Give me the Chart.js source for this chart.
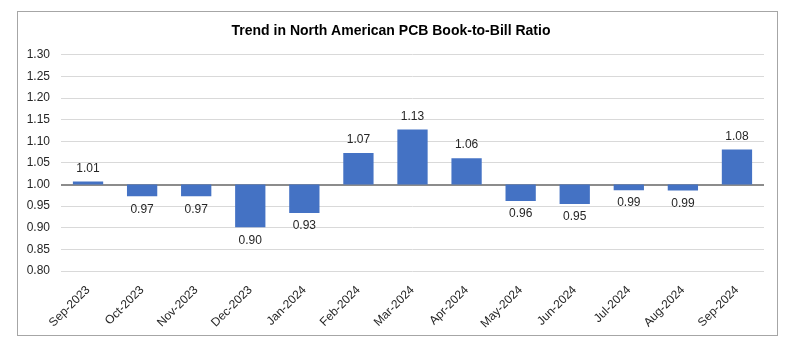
<!DOCTYPE html>
<html>
<head>
<meta charset="utf-8">
<script src="https://cdn.jsdelivr.net/npm/chart.js@4"></script>
<style>
  html, body { margin: 0; padding: 0; background: #fff; }
  #box {
    position: absolute; left: 17px; top: 11px;
    width: 759px; height: 323px;
    border: 1px solid #a6a6a6;
  }
</style>
</head>
<body>
<div id="box"><canvas id="chart" width="759" height="323"></canvas></div>
<script>
const months = ["Sep-2023", "Oct-2023", "Nov-2023", "Dec-2023", "Jan-2024", "Feb-2024",
  "Mar-2024", "Apr-2024", "May-2024", "Jun-2024", "Jul-2024", "Aug-2024", "Sep-2024"];
const ratio = [1.007, 0.973, 0.973, 0.901, 0.934, 1.073, 1.127, 1.061, 0.962, 0.955, 0.987, 0.986, 1.081];
const baseline = 1.0;
const yTicks = [0.80, 0.85, 0.90, 0.95, 1.00, 1.05, 1.10, 1.15, 1.20, 1.25, 1.30];

// value labels above / below each bar end
const valueLabels = {
  id: "valueLabels",
  afterDatasetsDraw(chart) {
    const { ctx } = chart;
    const meta = chart.getDatasetMeta(0);
    ctx.save();
    ctx.font = "12px 'Liberation Sans', Arial, sans-serif";
    ctx.fillStyle = "#262626";
    ctx.textAlign = "center";
    ctx.textBaseline = "middle";
    meta.data.forEach((bar, i) => {
      const v = ratio[i];
      const y = chart.scales.y.getPixelForValue(v);
      const off = v >= baseline ? -13 : 13;
      ctx.fillText(v.toFixed(2), bar.x, y + off);
    });
    ctx.restore();
  }
};

new Chart(document.getElementById("chart"), {
  type: "bar",
  data: {
    labels: months,
    datasets: [{
      data: ratio.map(v => [baseline, v]),
      backgroundColor: "#4472c4",
      borderWidth: 0,
      categoryPercentage: 1,
      barPercentage: 0.56
    }]
  },
  options: {
    responsive: false,
    animation: false,
    layout: { padding: { left: 0, right: 13, top: 1, bottom: 0 } },
    plugins: {
      legend: { display: false },
      tooltip: { enabled: false },
      title: {
        display: true,
        text: "Trend in North American PCB Book-to-Bill Ratio",
        color: "#000",
        font: { family: "'Liberation Sans', Arial, sans-serif", size: 14, weight: "bold" },
        padding: { top: 10, bottom: 15 }
      }
    },
    scales: {
      x: {
        grid: { display: false },
        border: { display: false },
        ticks: {
          color: "#262626",
          font: { family: "'Liberation Sans', Arial, sans-serif", size: 12 },
          maxRotation: 45, minRotation: 45,
          padding: 4
        },
        afterFit(s) { s.height = 64; }
      },
      y: {
        min: 0.8, max: 1.3,
        afterBuildTicks(s) { s.ticks = yTicks.map(v => ({ value: v })); },
        border: { display: false },
        grid: {
          drawTicks: false,
          color: c => Math.abs(c.tick.value - baseline) < 1e-6 ? "#8c8c8c" : "#d9d9d9",
          lineWidth: c => Math.abs(c.tick.value - baseline) < 1e-6 ? 2 : 1
        },
        ticks: {
          color: "#262626",
          font: { family: "'Liberation Sans', Arial, sans-serif", size: 12 },
          padding: 11,
          callback: v => Number(v).toFixed(2)
        },
        afterFit(s) { s.width = 43; }
      }
    }
  },
  plugins: [valueLabels]
});
</script>
</body>
</html>
